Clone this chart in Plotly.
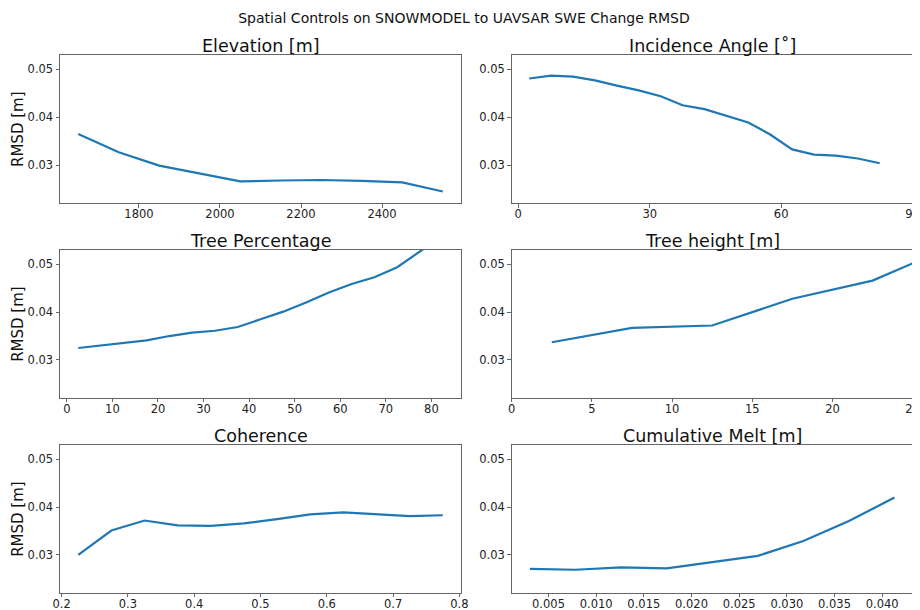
import plotly.graph_objects as go
from plotly.subplots import make_subplots

# ---- data ----
elevation_x = [1650, 1750, 1850, 1950, 2050, 2150, 2250, 2350, 2450, 2550]
elevation_rmsd = [0.0365, 0.0327, 0.0299, 0.0283, 0.0266, 0.0268, 0.0269, 0.0267, 0.0264, 0.0245]

incidence_x = [2.5, 7.5, 12.5, 17.5, 22.5, 27.5, 32.5, 37.5, 42.5, 47.5, 52.5, 57.5, 62.5, 67.5, 72.5, 77.5, 82.5]
incidence_rmsd = [0.0481, 0.0487, 0.0485, 0.0477, 0.0466, 0.0456, 0.0444, 0.0425, 0.0417, 0.0403, 0.0389, 0.0364, 0.0333, 0.0322, 0.0320, 0.0314, 0.0304]

treepct_x = [2.5, 7.5, 12.5, 17.5, 22.5, 27.5, 32.5, 37.5, 42.5, 47.5, 52.5, 57.5, 62.5, 67.5, 72.5, 77.5, 82.5]
treepct_rmsd = [0.0325, 0.0330, 0.0335, 0.0341, 0.0350, 0.0357, 0.0361, 0.0369, 0.0385, 0.0401, 0.0420, 0.0441, 0.0459, 0.0473, 0.0494, 0.0527, 0.0560]

treeheight_x = [2.5, 7.5, 12.5, 17.5, 22.5, 27.5]
treeheight_rmsd = [0.0337, 0.0367, 0.0372, 0.0428, 0.0466, 0.0538]

coherence_x = [0.225, 0.275, 0.325, 0.375, 0.425, 0.475, 0.525, 0.575, 0.625, 0.675, 0.725, 0.775]
coherence_rmsd = [0.0300, 0.0351, 0.0372, 0.0362, 0.0361, 0.0366, 0.0375, 0.0385, 0.0389, 0.0385, 0.0381, 0.0383]

melt_x = [0.00305, 0.00783, 0.01261, 0.01739, 0.02217, 0.02695, 0.03173, 0.03651, 0.04129]
melt_rmsd = [0.0271, 0.0269, 0.0274, 0.0272, 0.0285, 0.0298, 0.0329, 0.0371, 0.0420]

titles = ["Elevation [m]", "Incidence Angle [˚]", "Tree Percentage", "Tree height [m]",
          "Coherence", "Cumulative Melt [m]"]
suptitle = "Spatial Controls on SNOWMODEL to UAVSAR SWE Change RMSD"
ylabel = "RMSD [m]"

series = [
    (elevation_x, elevation_rmsd, [1605, 2595], 200, "d"),
    (incidence_x, incidence_rmsd, [-1.5, 90.02], 30, "d"),
    (treepct_x, treepct_rmsd, [-1.5, 86.5], 10, "d"),
    (treeheight_x, treeheight_rmsd, [0, 25.005], 5, "d"),
    (coherence_x, coherence_rmsd, [0.1975, 0.8025], 0.1, ".1f"),
    (melt_x, melt_rmsd, [0.00114, 0.0432], 0.005, ".3f"),
]

# page body has an 8px margin: draw a slightly smaller figure, shifted coordinates
OFF = 8
W, H = 920 - OFF, 610 - OFF
def px_x(p):
    return (p - OFF) / W
def px_y(p):
    return 1 - (p - OFF) / H

xdom = [[px_x(60), px_x(461)], [px_x(511.7), px_x(912.7)]]
rows_px = [(55, 203), (250, 397.7), (445, 592.7)]
ydom = [[px_y(b), px_y(t)] for t, b in rows_px]

fig = make_subplots(rows=3, cols=2)
font_family = "DejaVu Sans"
spine = "#666666"
tick_font = dict(size=11.5, color="#222")

for i, (x, y, xr, dt, fmt) in enumerate(series):
    r, c = i // 2 + 1, i % 2 + 1
    fig.add_trace(go.Scatter(x=x, y=y, mode="lines", line=dict(color="#1f77b4", width=2.2),
                             showlegend=False, cliponaxis=True), row=r, col=c)
    fig.update_xaxes(range=xr, dtick=dt, tick0=0, tickformat=fmt, domain=xdom[c - 1],
                     automargin=False, ticklabelstandoff=-3, ticklabeloverflow="allow",
                     showgrid=False, zeroline=False, showline=True, mirror=True,
                     linecolor=spine, linewidth=1, ticks="outside", ticklen=3.5,
                     tickcolor=spine, tickfont=tick_font, row=r, col=c)
    fig.update_yaxes(range=[0.0221, 0.053], dtick=0.01, tick0=0, tickformat=".2f",
                     domain=ydom[r - 1], automargin=False,
                     showgrid=False, zeroline=False, showline=True,
                     mirror=True, linecolor=spine, linewidth=1, ticks="outside", ticklen=3.5,
                     tickcolor=spine, tickfont=tick_font, row=r, col=c)
    if c == 1:
        fig.add_annotation(text=ylabel, x=px_x(18), y=(ydom[r - 1][0] + ydom[r - 1][1]) / 2,
                           xref="paper", yref="paper", xanchor="center", yanchor="middle",
                           textangle=-90, showarrow=False,
                           font=dict(size=15, color="#111", family=font_family))
    # subplot title
    fig.add_annotation(text=titles[i], x=(xdom[c - 1][0] + xdom[c - 1][1]) / 2,
                       y=ydom[r - 1][1], xref="paper", yref="paper", xanchor="center",
                       yanchor="bottom", yshift=-3, showarrow=False,
                       font=dict(size=17.5, color="#111", family=font_family))

fig.update_layout(
    width=W, height=H, margin=dict(l=0, r=0, t=0, b=0),
    paper_bgcolor="white", plot_bgcolor="white",
    font=dict(family=font_family, color="#222"),
    title=dict(text=suptitle, x=0.5, xanchor="center", y=px_y(18), yanchor="middle",
               font=dict(size=14, color="#111")),
)

fig.write_html("out.html")
